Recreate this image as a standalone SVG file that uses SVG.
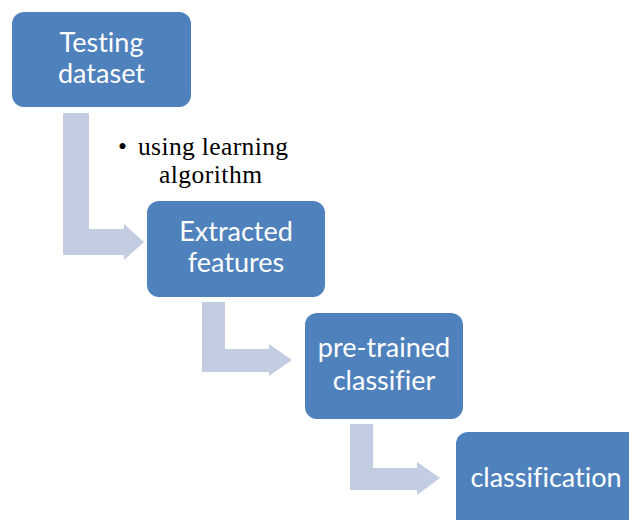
<svg xmlns="http://www.w3.org/2000/svg" width="629" height="520" viewBox="0 0 629 520">
  <style>
    .box { fill: #4F81BD; }
    .arrow { fill: #C3CDE1; }
    .lbl { font-family: Lato, "Open Sans", sans-serif; font-size: 27px; fill: #FFFFFF; text-anchor: middle; font-variant-ligatures: none; }
    .note { font-family: "Liberation Serif", serif; font-size: 25.5px; fill: #000000; }
  </style>
  <rect width="629" height="520" fill="#FFFFFF"/>

  <!-- bent flow arrows -->
  <g id="connectors">
    <path class="arrow" d="M63,113 H89 V229 H124 V224 L144,242 L124,260 V255 H63 Z"/>
    <path class="arrow" d="M202,302 H225 V349 H269 V344 L292,360 L269,376 V372 H202 Z"/>
    <path class="arrow" d="M350,424 H373 V468 H417 V462 L440,478 L417,495 V490 H350 Z"/>
  </g>

  <g id="note">
    <text class="note" x="118" y="155">•</text>
    <text class="note" x="138" y="155" textLength="150">using learning</text>
    <text class="note" x="159" y="183" textLength="103">algorithm</text>
  </g>

  <g id="testing-dataset">
    <rect class="box" x="12" y="12" width="179" height="95" rx="12"/>
    <text class="lbl" x="101.5" y="52">Testing</text>
    <text class="lbl" x="101.5" y="83">dataset</text>
  </g>

  <g id="extracted-features">
    <rect class="box" x="147" y="201" width="178" height="96" rx="12"/>
    <text class="lbl" x="236" y="241">Extracted</text>
    <text class="lbl" x="236" y="272">features</text>
  </g>

  <g id="pretrained-classifier">
    <rect class="box" x="305" y="313" width="158" height="106" rx="12"/>
    <text class="lbl" x="384" y="357">pre-trained</text>
    <text class="lbl" x="384" y="390">classifier</text>
  </g>

  <g id="classification">
    <rect class="box" x="456" y="432" width="185" height="100" rx="12"/>
    <text class="lbl" x="546" y="487">classification</text>
  </g>
</svg>
